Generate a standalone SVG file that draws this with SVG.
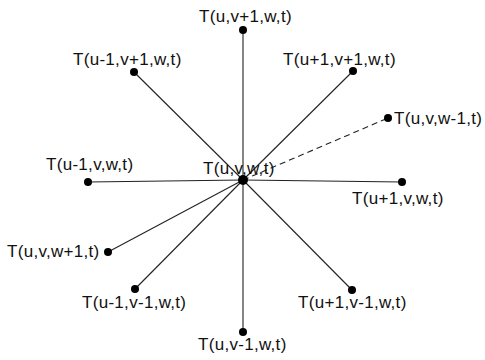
<svg xmlns="http://www.w3.org/2000/svg" width="485" height="360" viewBox="0 0 485 360">
<style>
.bg{fill:#fff}
.e{stroke:#222;stroke-width:1.1;fill:none}
.d{stroke-dasharray:6 4}
.dot{fill:#000}
text{font-family:"Liberation Sans",Arial,sans-serif;font-size:17px;letter-spacing:0.3px;fill:#111}
</style>
<rect class="bg" x="0" y="0" width="485" height="360"/>
<g id="connectors">
<line class="e" x1="243" y1="180" x2="243" y2="30"/>
<line class="e" x1="243" y1="180" x2="134" y2="72"/>
<line class="e" x1="243" y1="180" x2="353" y2="71"/>
<line class="e d" x1="243" y1="180" x2="388" y2="118"/>
<line class="e" x1="243" y1="180" x2="88" y2="182"/>
<line class="e" x1="243" y1="180" x2="402" y2="182"/>
<line class="e" x1="243" y1="180" x2="108" y2="252"/>
<line class="e" x1="243" y1="180" x2="135" y2="289"/>
<line class="e" x1="243" y1="180" x2="243" y2="332"/>
<line class="e" x1="243" y1="180" x2="352" y2="290"/>
</g>
<g id="n-center"><circle class="dot" cx="243" cy="180" r="5"/><text x="203" y="174">T(u,v,w,t)</text></g>
<g id="n-top"><circle class="dot" cx="243" cy="30" r="4"/><text x="199" y="22">T(u,v+1,w,t)</text></g>
<g id="n-topleft"><circle class="dot" cx="134" cy="72" r="4"/><text x="73" y="65">T(u-1,v+1,w,t)</text></g>
<g id="n-topright"><circle class="dot" cx="353" cy="71" r="4"/><text x="283" y="65">T(u+1,v+1,w,t)</text></g>
<g id="n-wminus"><circle class="dot" cx="388" cy="118" r="4"/><text x="394" y="124">T(u,v,w-1,t)</text></g>
<g id="n-left"><circle class="dot" cx="88" cy="182" r="4"/><text x="46" y="170">T(u-1,v,w,t)</text></g>
<g id="n-right"><circle class="dot" cx="402" cy="182" r="4"/><text x="352" y="204">T(u+1,v,w,t)</text></g>
<g id="n-wplus"><circle class="dot" cx="108" cy="252" r="4"/><text x="7" y="257">T(u,v,w+1,t)</text></g>
<g id="n-botleft"><circle class="dot" cx="135" cy="289" r="4"/><text x="82" y="308">T(u-1,v-1,w,t)</text></g>
<g id="n-bottom"><circle class="dot" cx="243" cy="332" r="4"/><text x="198" y="350">T(u,v-1,w,t)</text></g>
<g id="n-botright"><circle class="dot" cx="352" cy="290" r="4"/><text x="298" y="308">T(u+1,v-1,w,t)</text></g>
</svg>
